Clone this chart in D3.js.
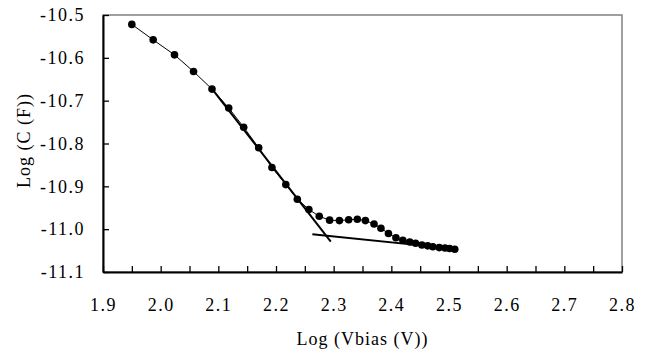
<!DOCTYPE html>
<html lang="en">
<head>
    <meta charset="UTF-8">
    <script src="https://d3js.org/d3.v7.min.js"></script>
    <style>
        body { margin: 0; background: #fff; }
        text { font-family: "Liberation Serif", "Times New Roman", serif; fill: #000; }
    </style>
    <title>Log C vs Log Vbias</title>
</head>
<body>
    <div id="chart"></div>
    <script>
        // measured points: log of bias voltage and log of capacitance
        var logV = [1.950, 1.987, 2.024, 2.057, 2.089, 2.118, 2.144, 2.170, 2.193, 2.217,
            2.237, 2.257, 2.275, 2.293, 2.310, 2.326, 2.341, 2.355, 2.370, 2.382,
            2.395, 2.408, 2.420, 2.432, 2.442, 2.453, 2.463, 2.472, 2.483, 2.493,
            2.501, 2.510];
        var logC = [-10.522, -10.558, -10.593, -10.632, -10.673, -10.717, -10.762, -10.810, -10.856, -10.896,
            -10.930, -10.954, -10.970, -10.979, -10.980, -10.978, -10.977, -10.980, -10.988, -10.998,
            -11.010, -11.020, -11.026, -11.030, -11.033, -11.037, -11.039, -11.041, -11.043, -11.044,
            -11.045, -11.047];

        // the two straight fits (end points)
        var fit1X = [2.086, 2.295];
        var fit1Y = [-10.667, -11.029];
        var fit2X = [2.263, 2.510];
        var fit2Y = [-11.012, -11.046];

        var xTicks = [1.9, 2.0, 2.1, 2.2, 2.3, 2.4, 2.5, 2.6, 2.7, 2.8];
        var yTicks = [-10.5, -10.6, -10.7, -10.8, -10.9, -11.0, -11.1];

        var margin = { top: 15, right: 39, bottom: 82, left: 103 };
        var width = 661 - margin.left - margin.right;
        var height = 354 - margin.top - margin.bottom;

        var svg = d3.select("#chart").append("svg")
            .attr("width", 661)
            .attr("height", 354);

        var g = svg.append("g")
            .attr("transform", "translate(" + margin.left + "," + margin.top + ")");

        var x = d3.scaleLinear().domain([1.9, 2.8]).range([0, width]);
        var y = d3.scaleLinear().domain([-11.1, -10.5]).range([height, 0]);

        // plain hyphen instead of the unicode minus
        var fmt = function (d) { return d3.format(".1f")(d).replace("\u2212", "-"); };

        // plot area border (top and right in grey)
        g.append("rect")
            .attr("x", 0).attr("y", 0)
            .attr("width", width).attr("height", height)
            .attr("fill", "none")
            .attr("stroke", "#808080")
            .attr("stroke-width", 1.5);

        // x axis, minor ticks every 0.05 pointing in, labels only on xTicks
        var minorX = d3.range(0, 19).map(function (i) { return 1.9 + i * 0.05; });
        var xAxis = g.append("g")
            .attr("transform", "translate(0," + height + ")")
            .call(d3.axisBottom(x).tickValues(minorX).tickSize(-6).tickSizeOuter(0)
                .tickFormat(function (d) {
                    var hit = xTicks.some(function (t) { return Math.abs(t - d) < 1e-6; });
                    return hit ? fmt(d) : "";
                }));
        xAxis.select(".domain").attr("stroke", "#000").attr("stroke-width", 2);
        xAxis.selectAll("line").attr("stroke", "#000").attr("stroke-width", 1.3);
        xAxis.selectAll("text")
            .attr("y", 26)
            .attr("dy", "0.71em")
            .style("font-size", "18px")
            .style("letter-spacing", "1.5px");

        // y axis
        var yAxis = g.append("g")
            .call(d3.axisLeft(y).tickValues(yTicks).tickSize(-6).tickSizeOuter(0)
                .tickFormat(fmt));
        yAxis.select(".domain").attr("stroke", "#000").attr("stroke-width", 2);
        yAxis.selectAll("line").attr("stroke", "#000").attr("stroke-width", 1.3);
        yAxis.selectAll("text")
            .attr("x", -18)
            .style("font-size", "18px")
            .style("letter-spacing", "1.5px");

        // axis titles
        g.append("text")
            .attr("x", width / 2)
            .attr("y", height + 73)
            .style("text-anchor", "middle")
            .style("font-size", "18px")
            .style("letter-spacing", "1px")
            .text("Log (Vbias (V))");

        g.append("text")
            .attr("transform", "rotate(-90)")
            .attr("x", -height / 2 + 3)
            .attr("y", -73)
            .style("text-anchor", "middle")
            .style("font-size", "18px")
            .style("letter-spacing", "1px")
            .text("Log (C (F))");

        var pts = logV.map(function (v, i) { return { x: v, y: logC[i] }; });

        // data line
        g.append("path")
            .datum(pts)
            .attr("fill", "none")
            .attr("stroke", "#000")
            .attr("stroke-width", 1)
            .attr("d", d3.line()
                .x(function (d) { return x(d.x); })
                .y(function (d) { return y(d.y); }));

        // fit lines
        [[fit1X, fit1Y], [fit2X, fit2Y]].forEach(function (f) {
            g.append("line")
                .attr("x1", x(f[0][0])).attr("y1", y(f[1][0]))
                .attr("x2", x(f[0][1])).attr("y2", y(f[1][1]))
                .attr("stroke", "#000")
                .attr("stroke-width", 2);
        });

        // markers
        g.append("g")
            .selectAll("circle")
            .data(pts)
            .enter()
            .append("circle")
            .attr("cx", function (d) { return x(d.x); })
            .attr("cy", function (d) { return y(d.y); })
            .attr("r", 3.8)
            .attr("fill", "#000");
    </script>
</body>
</html>
